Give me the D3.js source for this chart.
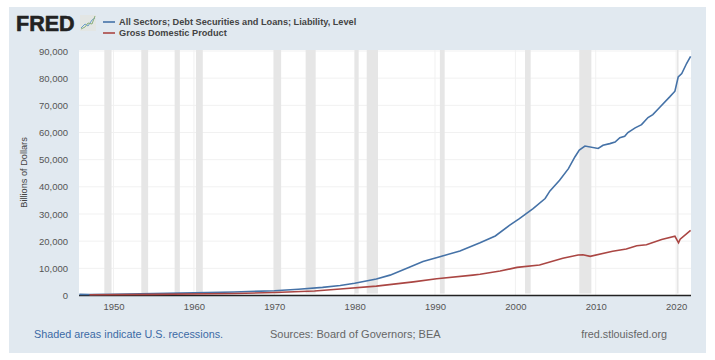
<!DOCTYPE html>
<html>
<head>
<meta charset="utf-8">
<script src="https://cdn.jsdelivr.net/npm/d3@7"></script>
<style>
html, body { margin:0; padding:0; background:#fff; }
svg { display:block; font-family:"Liberation Sans", Arial, sans-serif; }
</style>
</head>
<body>
<script>
// FRED chart: debt securities and loans vs GDP

const debtYears = [1945.75,1947,1950,1955,1960,1965,1970,1973,1976,1978.2,1980,1982.7,1984.4,1986.5,1988.5,1990.6,1993.1,1995.6,1997.5,1999.3,2000.5,2002.2,2003.7,2004.3,2005.5,2006.6,2007.4,2007.95,2008.65,2010.3,2010.9,2011.75,2012.4,2013,2013.6,2014,2014.9,2015.7,2016.5,2017.1,2018,2019.2,2019.85,2020.26,2020.7,2021.3,2021.8];
const debtValues = [400,380,480,700,950,1300,1750,2300,3000,3700,4500,6100,7500,10000,12500,14300,16400,19400,21900,25900,28300,32000,35700,38500,42400,46700,51000,53500,55000,54100,55300,55900,56500,58100,58600,60000,61700,62900,65500,66600,69400,73100,75200,80500,81700,85400,88000];
const gdpYears = [1947,1955,1965,1970,1975,1978.2,1982.7,1987.3,1990.2,1994.7,1995.6,1998.1,2000.2,2003,2005.9,2007.8,2008.4,2009.3,2012.1,2013.8,2015.1,2016.3,2018.2,2019.85,2020.3,2020.5,2021.8];
const gdpValues = [250,420,750,1080,1680,2400,3450,5000,6150,7500,7800,9000,10350,11200,13700,14900,15000,14400,16300,17100,18300,18700,20600,21800,19400,20700,24000];

const recessionStart = [1948.85,1953.45,1957.6,1960.25,1969.9,1973.9,1980.0,1981.5,1990.6,2001.2,2007.95,2020.1];
const recessionEnd = [1949.75,1954.3,1958.25,1961.1,1970.85,1975.15,1980.5,1982.9,1991.2,2001.9,2009.45,2020.3];

const yTicks = [0,10000,20000,30000,40000,50000,60000,70000,80000,90000];
const xTicks = [1950,1960,1970,1980,1990,2000,2010,2020];
const legendLabels = ["All Sectors; Debt Securities and Loans; Liability, Level","Gross Domestic Product"];

const width = 715, height = 360;
const panel = {left:9, top:7, right:706, bottom:353};
const plot = {left:79, top:50, right:691, bottom:295.5};

const svg = d3.select("body").append("svg").attr("width", width).attr("height", height);

svg.append("rect")
    .attr("x", panel.left).attr("y", panel.top)
    .attr("width", panel.right - panel.left).attr("height", panel.bottom - panel.top)
    .attr("fill", "#e1e9f0");

svg.append("rect")
    .attr("x", plot.left).attr("y", plot.top)
    .attr("width", plot.right - plot.left).attr("height", plot.bottom - plot.top)
    .attr("fill", "#fff");

const x = d3.scaleLinear().domain([1945.7,2021.85]).range([plot.left, plot.right]);
const y = d3.scaleLinear().domain([0,90000]).range([plot.bottom, plot.top + 1]);

// grid
svg.append("g").selectAll("line").data(yTicks.slice(1)).join("line")
    .attr("x1", plot.left).attr("x2", plot.right)
    .attr("y1", d => y(d)).attr("y2", d => y(d))
    .attr("stroke", "#f1f1f1").attr("stroke-width", 1);
svg.append("g").selectAll("line").data(xTicks).join("line")
    .attr("x1", d => x(d)).attr("x2", d => x(d))
    .attr("y1", plot.top).attr("y2", plot.bottom)
    .attr("stroke", "#f1f1f1").attr("stroke-width", 1);

// recessions
svg.append("g").selectAll("rect").data(recessionStart).join("rect")
    .attr("x", d => x(d))
    .attr("width", (d,i) => x(recessionEnd[i]) - x(d))
    .attr("y", plot.top)
    .attr("height", plot.bottom - plot.top - 2)
    .attr("fill", "#e6e6e6");

// axes
const yAxis = d3.axisLeft(y).tickValues(yTicks).tickSize(0).tickPadding(11).tickFormat(d3.format(","));
const yG = svg.append("g").attr("transform", "translate(" + plot.left + ",0)").call(yAxis);
yG.select(".domain").remove();
yG.selectAll("text").attr("fill", "#555").style("font-size", "9.5px");

const xAxis = d3.axisBottom(x).tickValues(xTicks).tickSize(0).tickPadding(8).tickFormat(d3.format("d"));
const xG = svg.append("g").attr("transform", "translate(0," + plot.bottom + ")").call(xAxis);
xG.select(".domain").remove();
xG.selectAll("text").attr("fill", "#555").style("font-size", "9.5px");

svg.append("line")
    .attr("x1", plot.left).attr("x2", plot.right)
    .attr("y1", plot.bottom).attr("y2", plot.bottom)
    .attr("stroke", "#222").attr("stroke-width", 1.5);

svg.append("text")
    .attr("transform", "translate(27,172.5) rotate(-90)")
    .attr("text-anchor", "middle")
    .attr("fill", "#444").style("font-size", "9.2px")
    .text("Billions of Dollars");

// lines
const line = d3.line().x(d => x(d[0])).y(d => y(d[1]));
svg.append("path")
    .attr("d", line(d3.zip(debtYears, debtValues)))
    .attr("fill", "none").attr("stroke", "#4572a7").attr("stroke-width", 1.6);
svg.append("path")
    .attr("d", line(d3.zip(gdpYears, gdpValues)))
    .attr("fill", "none").attr("stroke", "#aa4643").attr("stroke-width", 1.6);

// logo
svg.append("text")
    .attr("x", 16).attr("y", 31)
    .attr("fill", "#222").attr("stroke", "#222").attr("stroke-width", 0.6)
    .style("font-size", "21.5px").style("font-weight", "bold")
    .text("FRED");
const logo = svg.append("g");
logo.append("rect").attr("x", 80).attr("y", 15).attr("width", 16).attr("height", 16).attr("fill", "#e3e6e4");
logo.append("path").attr("d", "M81 28 L85 24 L88 26 L92 20 L95 18").attr("fill", "none").attr("stroke", "#6d9fc9").attr("stroke-width", 1);
logo.append("path").attr("d", "M81 29 L85 27 L88 23 L92 24 L95 16").attr("fill", "none").attr("stroke", "#8cb07c").attr("stroke-width", 1);

// legend
const legendColors = ["#4572a7","#aa4643"];
const legend = svg.append("g").selectAll("g").data(legendLabels).join("g")
    .attr("transform", (d,i) => "translate(103," + (22 + i * 11) + ")");
legend.append("line").attr("x1", 0).attr("x2", 12).attr("stroke", (d,i) => legendColors[i]).attr("stroke-width", 1.6);
legend.append("text").attr("x", 16).attr("y", 3.3)
    .attr("fill", "#444")
    .style("font-size", "9.2px").style("font-weight", "bold")
    .text(d => d);

// footer
svg.append("text").attr("x", 34).attr("y", 338).attr("fill", "#3c6aa5").style("font-size", "10.8px")
    .text("Shaded areas indicate U.S. recessions.");
svg.append("text").attr("x", 270).attr("y", 338).attr("fill", "#666").style("font-size", "11px")
    .text("Sources: Board of Governors; BEA");
svg.append("text").attr("x", 667).attr("y", 338).attr("text-anchor", "end").attr("fill", "#666").style("font-size", "10.8px")
    .text("fred.stlouisfed.org");
</script>
</body>
</html>
